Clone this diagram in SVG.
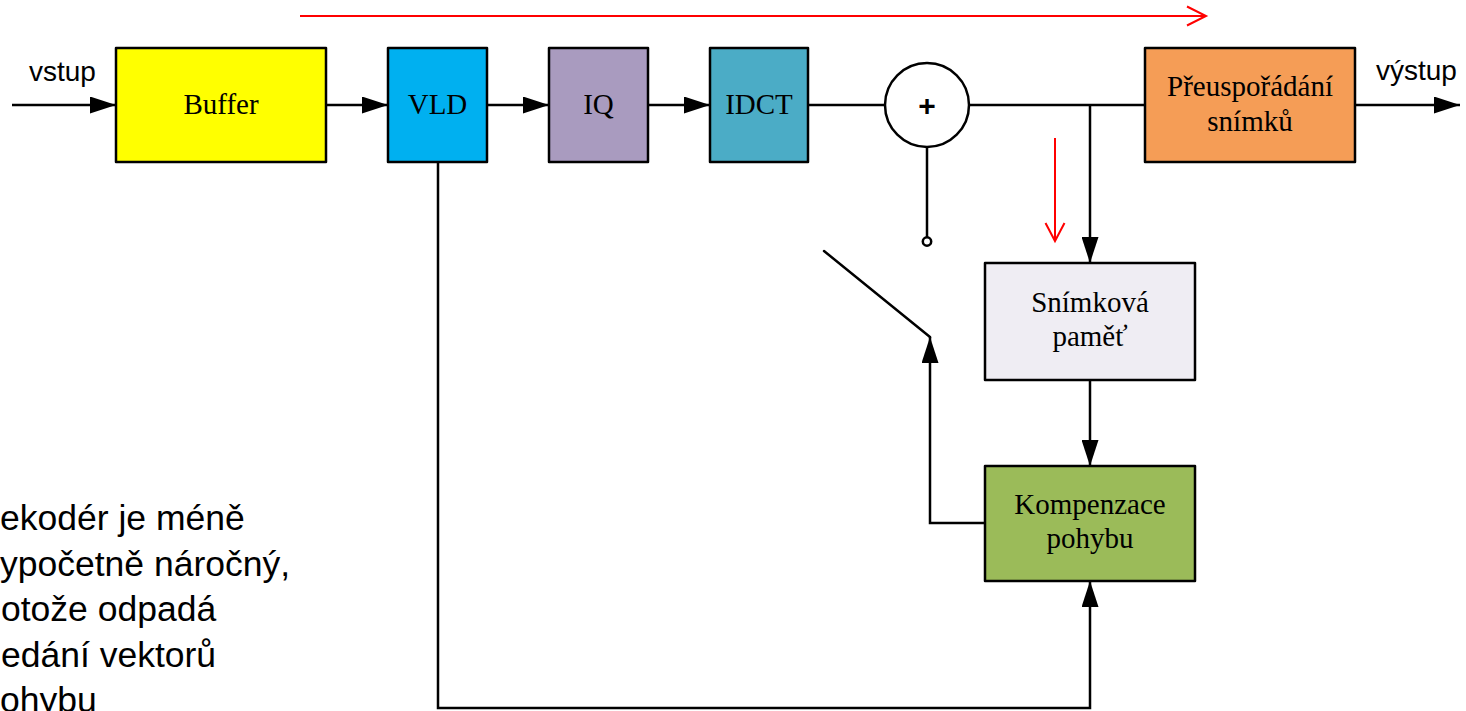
<svg xmlns="http://www.w3.org/2000/svg" width="1466" height="711" viewBox="0 0 1466 711">
  <defs>
    <marker id="arrow" viewBox="0 0 26 17" refX="26" refY="8.5" markerWidth="26" markerHeight="17" markerUnits="userSpaceOnUse" orient="auto">
      <path d="M0,0 L26,8.5 L0,17 Z" fill="#000"/>
    </marker>
    <style>
      .box { stroke: #000; stroke-width: 2.5; stroke-linejoin: round; }
      .wire { fill: none; stroke: #000; stroke-width: 2.5; }
      .flow { fill: none; stroke: #FF0000; stroke-width: 2; }
      .lbl { font-family: "Liberation Serif", "Times New Roman", serif; font-size: 29px; fill: #000; text-anchor: middle; }
      .sans { font-family: "Liberation Sans", Arial, sans-serif; fill: #000; }
      .note { font-size: 35.5px; }
    </style>
  </defs>

  <rect width="1466" height="711" fill="#FFFFFF"/>

  <!-- signal lines -->
  <g id="connectors">
    <line class="wire" x1="12" y1="105" x2="116" y2="105" marker-end="url(#arrow)"/>
    <line class="wire" x1="326" y1="105" x2="388" y2="105" marker-end="url(#arrow)"/>
    <line class="wire" x1="487" y1="105" x2="549" y2="105" marker-end="url(#arrow)"/>
    <line class="wire" x1="648" y1="105" x2="710" y2="105" marker-end="url(#arrow)"/>
    <line class="wire" x1="808" y1="105" x2="885" y2="105"/>
    <line class="wire" x1="969" y1="105" x2="1145" y2="105"/>
    <line class="wire" x1="1090" y1="105" x2="1090" y2="263" marker-end="url(#arrow)"/>
    <line class="wire" x1="1090" y1="380" x2="1090" y2="466" marker-end="url(#arrow)"/>
    <line class="wire" x1="1355" y1="105" x2="1460" y2="105" marker-end="url(#arrow)"/>
    <!-- adder output to switch contact -->
    <line class="wire" x1="927" y1="147" x2="927" y2="237"/>
    <circle class="wire" cx="927" cy="241.5" r="4.2"/>
    <!-- switch blade -->
    <line class="wire" x1="824" y1="251" x2="930" y2="337" stroke-linecap="round"/>
    <!-- motion compensation back to switch -->
    <polyline class="wire" points="985,523 930,523 930,337" marker-end="url(#arrow)"/>
    <!-- motion vectors from VLD -->
    <polyline class="wire" points="438,162 438,708 1090,708 1090,581" marker-end="url(#arrow)"/>
  </g>

  <!-- red flow indicators -->
  <g id="flow">
    <line class="flow" x1="300" y1="16" x2="1205" y2="16"/>
    <polyline class="flow" points="1187,6.5 1206,16 1187,25.5"/>
    <line class="flow" x1="1055" y1="138" x2="1055" y2="240"/>
    <polyline class="flow" points="1045.5,223 1055,241 1064.5,223"/>
  </g>

  <g id="buffer">
    <rect class="box" x="116" y="48" width="210" height="114" fill="#FFFF00"/>
    <text class="lbl" x="221" y="114">Buffer</text>
  </g>
  <g id="vld">
    <rect class="box" x="388" y="48" width="99" height="114" fill="#00B0F0"/>
    <text class="lbl" x="437.5" y="114">VLD</text>
  </g>
  <g id="iq">
    <rect class="box" x="549" y="48" width="99" height="114" fill="#A99BBF"/>
    <text class="lbl" x="598.5" y="114">IQ</text>
  </g>
  <g id="idct">
    <rect class="box" x="710" y="48" width="98" height="114" fill="#4BACC6"/>
    <text class="lbl" x="759" y="114">IDCT</text>
  </g>
  <g id="adder">
    <circle class="box" cx="927" cy="105" r="42" fill="#FFFFFF"/>
    <text class="sans" x="927" y="115.5" font-size="30" font-weight="bold" text-anchor="middle">+</text>
  </g>
  <g id="reorder">
    <rect class="box" x="1145" y="48" width="210" height="114" fill="#F59D56"/>
    <text class="lbl" x="1250" y="96">Přeuspořádání</text>
    <text class="lbl" x="1250" y="131">snímků</text>
  </g>
  <g id="frame-memory">
    <rect class="box" x="985" y="263" width="210" height="117" fill="#EFEDF3"/>
    <text class="lbl" x="1090" y="311.5">Snímková</text>
    <text class="lbl" x="1090" y="345.5">paměť</text>
  </g>
  <g id="motion-comp">
    <rect class="box" x="985" y="466" width="210" height="115" fill="#9BBB59"/>
    <text class="lbl" x="1090" y="514">Kompenzace</text>
    <text class="lbl" x="1090" y="548">pohybu</text>
  </g>

  <g id="io-labels">
    <text class="sans" x="29" y="81" font-size="28">vstup</text>
    <text class="sans" x="1376" y="80" font-size="28">výstup</text>
  </g>

  <g id="note">
    <text class="sans note" x="0" y="530">ekodér je méně</text>
    <text class="sans note" x="0" y="575.5">ypočetně náročný,</text>
    <text class="sans note" x="1" y="621">otože odpadá</text>
    <text class="sans note" x="1" y="666.5">edání vektorů</text>
    <text class="sans note" x="0" y="712">ohybu</text>
  </g>
</svg>
